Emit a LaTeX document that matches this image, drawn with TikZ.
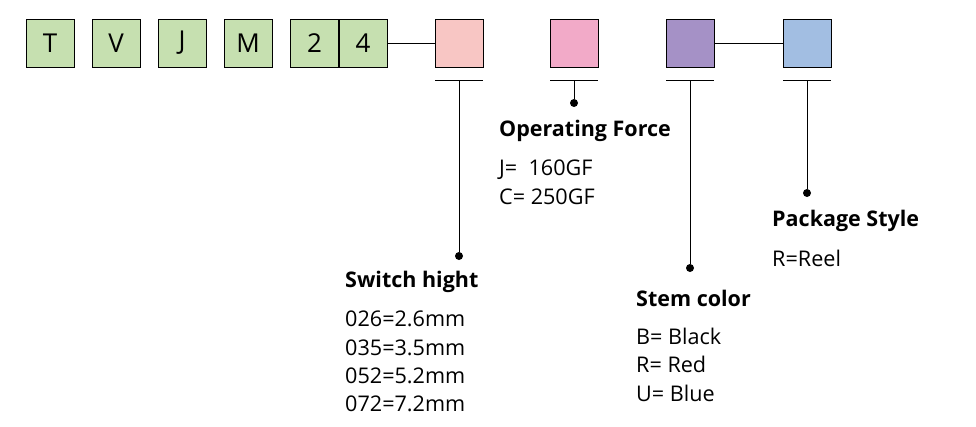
\documentclass[tikz,border=0pt]{standalone}
\usepackage{fontspec}
\setmainfont{Open Sans}
\begin{document}
\begin{tikzpicture}[x=1pt,y=-1pt,
 lt/.style={draw=black,fill=gbox,minimum width=48pt,minimum height=48pt,inner sep=0pt,font=\fontsize{26}{26}\selectfont,line width=0.8pt},
 cb/.style={draw=black,minimum width=48pt,minimum height=48pt,inner sep=0pt,line width=0.8pt},
 hd/.style={anchor=west,font=\bfseries\fontsize{21.5}{22}\selectfont,inner sep=0pt},
 tx/.style={anchor=north west,font=\fontsize{21.6}{28.3}\selectfont,inner sep=0pt,align=left},
 dot/.style={circle,fill=black,inner sep=0pt,minimum size=8pt}]
\definecolor{gbox}{HTML}{C6E0B0}
\useasboundingbox (0,0) rectangle (976,426);
\node[lt] (t) at (50,43) {T};
\node[lt] (v) at (116,43) {V};
\node[lt] (j) at (182,43) {J};
\node[lt] (m) at (248,43) {M};
\node[lt] (n2) at (314.5,43) {2};
\node[lt] (n4) at (363,43) {4};
\node[cb,fill={rgb,255:red,248;green,198;blue,196}] (b1) at (459,43) {};
\node[cb,fill={rgb,255:red,242;green,170;blue,200}] (b2) at (574,43) {};
\node[cb,fill={rgb,255:red,165;green,145;blue,198}] (b3) at (690,43) {};
\node[cb,fill={rgb,255:red,162;green,190;blue,226}] (b4) at (807,43) {};
\draw[line width=0.8pt] (n4.east) -- (b1.west);
\draw[line width=0.8pt] (b3.east) -- (b4.west);
\foreach \x/\y/\n in {459/256/d1,574/103/d2,690/268/d3,807/193/d4}{
  \coordinate (l\n) at (\x-24,80);
  \coordinate (r\n) at (\x+24,80);
  \coordinate (m\n) at (\x,80);
  \draw[line width=0.8pt] (l\n) -- (r\n);
  \node[dot] (\n) at (\x,\y) {};
  \draw[line width=0.5pt] (m\n) -- (\n);
}
\node[hd] (h2) at (499,131) {Operating Force};
\node[tx] (t2) at (499,160) {J=\ \ 160GF\\C= 250GF};
\node[hd] (h4) at (772,221) {Package Style};
\node[tx] (t4) at (772,250) {R=Reel};
\node[hd] (h1) at (345,282) {Switch hight};
\node[tx] (t1) at (345,311) {026=2.6mm\\035=3.5mm\\052=5.2mm\\072=7.2mm};
\node[hd] (h3) at (636,298) {Stem color};
\node[tx] (t3) at (636,328) {B= Black\\R= Red\\U= Blue};
\end{tikzpicture}
\end{document}
